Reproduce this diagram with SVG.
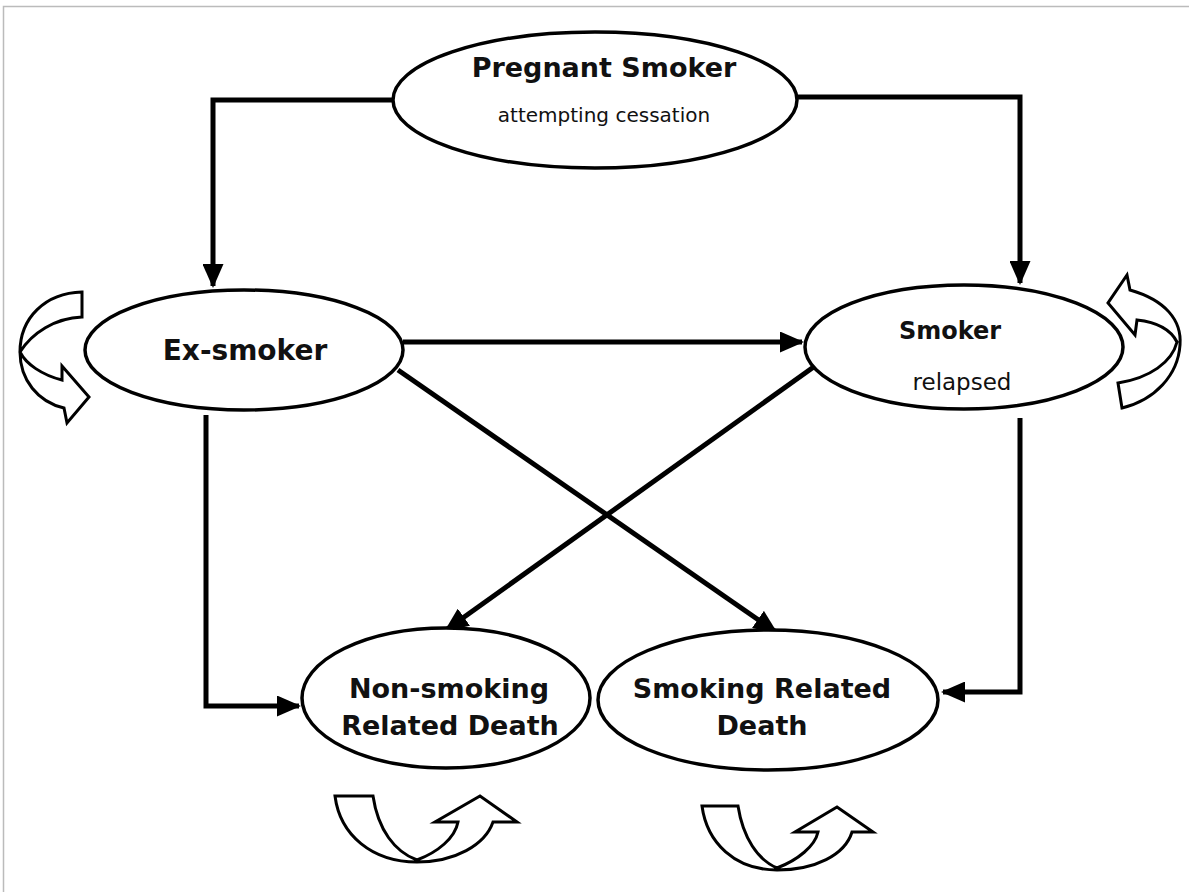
<svg xmlns="http://www.w3.org/2000/svg" width="1189" height="892" viewBox="0 0 1189 892">
<style>
.node{fill:#fff;stroke:#000;stroke-width:3.5}
.conn{fill:none;stroke:#000;stroke-width:5;stroke-linejoin:miter}
.loop{fill:#fff;stroke:#000;stroke-width:3;stroke-linejoin:miter}
.t{font-family:"DejaVu Sans",sans-serif;fill:#111;text-anchor:middle}
.b{font-weight:bold}
</style>
<defs>
<marker id="ah" markerWidth="4.8" markerHeight="4.2" refX="4.4" refY="2.1" orient="auto" markerUnits="strokeWidth">
<path d="M0,0 L4.8,2.1 L0,4.2 Z" fill="#000"/>
</marker>
</defs>
<rect width="1189" height="892" fill="#fff"/>
<path d="M3.5,892 V6.5 H1189" fill="none" stroke="#bbb" stroke-width="1.5"/>

<g id="connectors">
<path class="conn" d="M395,100 H213 V286" marker-end="url(#ah)"/>
<path class="conn" d="M796,97 H1020 V283" marker-end="url(#ah)"/>
<path class="conn" d="M403,342 H802" marker-end="url(#ah)"/>
<path class="conn" d="M206,415 V706 H299" marker-end="url(#ah)"/>
<path class="conn" d="M1020,418 V692 H943" marker-end="url(#ah)"/>
<path class="conn" d="M398,370 L776,632" marker-end="url(#ah)"/>
<path class="conn" d="M815,366 L446,630" marker-end="url(#ah)"/>
</g>

<g id="pregnant-smoker">
<ellipse class="node" cx="595" cy="100" rx="202" ry="68"/>
<text class="t b" x="604" y="77" font-size="27">Pregnant Smoker</text>
<text class="t" x="604" y="122" font-size="20">attempting cessation</text>
</g>
<g id="ex-smoker">
<ellipse class="node" cx="244" cy="350" rx="159" ry="60"/>
<text class="t b" x="245" y="360" font-size="28">Ex-smoker</text>
</g>
<g id="smoker">
<ellipse class="node" cx="964" cy="347" rx="159" ry="62"/>
<text class="t b" x="950" y="339" font-size="24">Smoker</text>
<text class="t" x="962" y="390" font-size="23">relapsed</text>
</g>
<g id="non-smoking-death">
<ellipse class="node" cx="446" cy="698" rx="144" ry="70"/>
<text class="t b" x="449" y="698" font-size="27">Non-smoking</text>
<text class="t b" x="450" y="735" font-size="27">Related Death</text>
</g>
<g id="smoking-death">
<ellipse class="node" cx="768" cy="700" rx="170" ry="70"/>
<text class="t b" x="762" y="698" font-size="27">Smoking Related</text>
<text class="t b" x="762" y="735" font-size="27">Death</text>
</g>

<g id="self-loops">
<path class="loop" d="M82,292 L82,317 C55,318 32,333 20,352 C26,364 42,375 62,380 L62,366 L89,397 L67,423 L64,408 C38,402 20,380 20,352 C20,318 45,293 82,292 Z"/>
<path class="loop" d="M1127,275 L1130,290 C1165,300 1182,320 1180,345 C1178,375 1155,400 1122,408 L1118,383 C1150,378 1172,362 1177,342 C1170,328 1155,322 1137,320 L1135,335 L1108,303 Z"/>
<path class="loop" d="M335,796 L373,796 C378,830 395,852 417,860 C438,852 455,838 458,822 L435,822 L480,796 L517,822 L493,822 C485,845 455,862 417,862 C372,862 340,835 335,796 Z"/>
<path class="loop" d="M702,806 L738,806 C743,838 758,860 777,868 C798,860 815,846 818,832 L795,832 L837,807 L873,832 L852,832 C845,855 815,870 777,870 C735,870 707,843 702,806 Z"/>
</g>
</svg>
